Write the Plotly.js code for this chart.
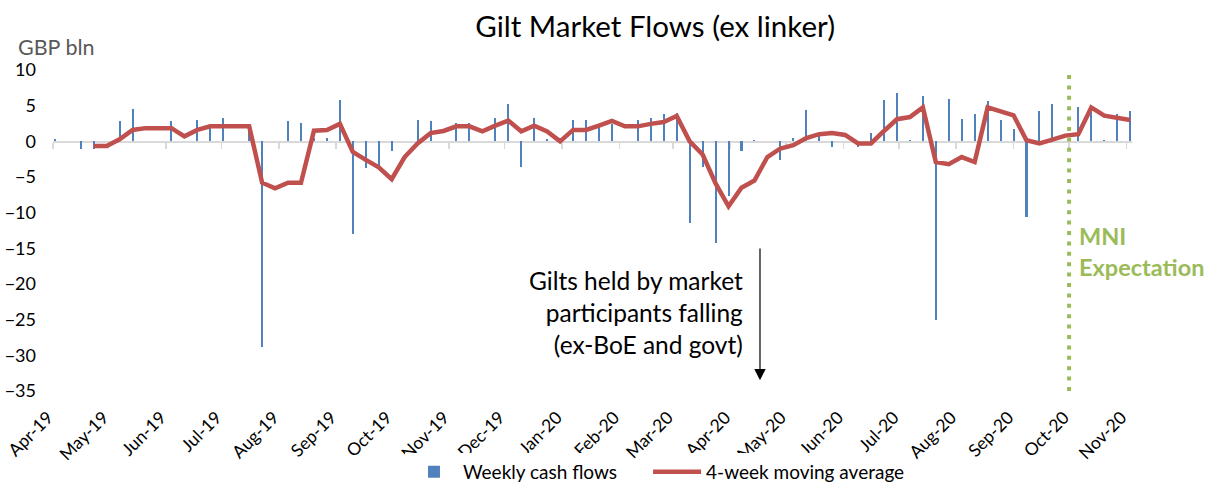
<!DOCTYPE html>
<html>
<head>
<meta charset="utf-8">
<script src="https://cdn.plot.ly/plotly-3.0.1.min.js"></script>
<style>
  body { margin: 0; background: #fff; }
  #chart-gilt-flows { width: 1211px; height: 484px; }
</style>
</head>
<body>
<div id="chart-gilt-flows"></div>
<script>
//weekly dates (tuesdays)
var weeks = [
    "2019-04-02", "2019-04-09", "2019-04-16", "2019-04-23", "2019-04-30",
    "2019-05-07", "2019-05-14", "2019-05-21", "2019-05-28",
    "2019-06-04", "2019-06-11", "2019-06-18", "2019-06-25",
    "2019-07-02", "2019-07-09", "2019-07-16", "2019-07-23", "2019-07-30",
    "2019-08-06", "2019-08-13", "2019-08-20", "2019-08-27",
    "2019-09-03", "2019-09-10", "2019-09-17", "2019-09-24",
    "2019-10-01", "2019-10-08", "2019-10-15", "2019-10-22", "2019-10-29",
    "2019-11-05", "2019-11-12", "2019-11-19", "2019-11-26",
    "2019-12-03", "2019-12-10", "2019-12-17", "2019-12-24", "2019-12-31",
    "2020-01-07", "2020-01-14", "2020-01-21", "2020-01-28",
    "2020-02-04", "2020-02-11", "2020-02-18", "2020-02-25",
    "2020-03-03", "2020-03-10", "2020-03-17", "2020-03-24", "2020-03-31",
    "2020-04-07", "2020-04-14", "2020-04-21", "2020-04-28",
    "2020-05-05", "2020-05-12", "2020-05-19", "2020-05-26",
    "2020-06-02", "2020-06-09", "2020-06-16", "2020-06-23", "2020-06-30",
    "2020-07-07", "2020-07-14", "2020-07-21", "2020-07-28",
    "2020-08-04", "2020-08-11", "2020-08-18", "2020-08-25",
    "2020-09-01", "2020-09-08", "2020-09-15", "2020-09-22", "2020-09-29",
    "2020-10-06", "2020-10-13", "2020-10-20", "2020-10-27",
    "2020-11-03"
];

//weekly cash flows, GBP bln
var weeklyFlows = [
    0.3, 0, -1.1, -1.05, 0,
    2.9, 4.6, 0, 0,
    2.8, 0, 3.05, 2.4,
    3.3, 0, 2.2, -28.9, 0,
    2.8, 2.6, 0.5, 0.5,
    5.8, -13.0, -3.8, -3.6,
    -1.3, 0, 3.05, 2.8, 0,
    2.6, 2.6, 0, 3.3,
    5.3, -3.55, 3.3, 0.3, 0,
    3.05, 3.05, 2.4, 2.45,
    0, 3.05, 3.3, 3.85,
    4.0, -11.5, -3.6, -14.2, -7.7,
    -1.35, 0.25, 0, -2.55,
    0.45, 4.4, 1.2, -0.85,
    0, -0.85, 1.15, 5.8, 6.8,
    0.25, 6.3, -25.1, 6.0,
    3.2, 3.9, 5.6, 2.95,
    1.7, -10.6, 4.3, 5.2, 0,
    4.8, 4.1, 0.25, 3.85,
    4.3
];

//4-week moving average (starts on 4th week)
var movingAvg = [
    null, null, null, -0.65, -0.65,
    0.28, 1.6, 1.85, 1.85,
    1.85, 0.7, 1.6, 2.1,
    2.1, 2.1, 2.1, -5.8, -6.6,
    -5.8, -5.8, 1.5, 1.6,
    2.45, -1.5, -2.6, -3.65,
    -5.3, -2.2, -0.3, 1.15, 1.45,
    2.1, 2.1, 1.4, 2.2,
    2.9, 1.4, 2.2, 1.4, 0,
    1.6, 1.6, 2.2, 2.85,
    2.1, 2.1, 2.45, 2.7,
    3.55, 0, -1.85, -5.9, -9.1,
    -6.5, -5.5, -2.2, -1.0,
    -0.55, 0.45, 1.0, 1.15,
    0.9, -0.3, -0.3, 1.45, 3.1,
    3.4, 4.75, -2.9, -3.2,
    -2.2, -2.9, 4.75, 4.2,
    3.65, 0.15, -0.3, 0.25, 0.8,
    1.0, 4.75, 3.6, 3.35,
    3.0
];

var xRange = ["2019-04-01", "2020-11-04"];
var expectationDate = "2020-10-01";
var arrowDate = "2020-04-17";
var FONT = "Lato, 'Open Sans', sans-serif";

//traces
var trace1 = {
    x: weeks,
    y: weeklyFlows,
    type: 'bar',
    name: 'Weekly cash flows',
    width: 86400000 * 1.1,
    marker: { color: '#4F81BD', line: { width: 0 } },
    legend: 'legend'
};

var trace2 = {
    x: weeks,
    y: movingAvg,
    xaxis: 'x2',
    type: 'scatter',
    mode: 'lines',
    name: '4-week moving average',
    line: { width: 4.5, color: '#C0504D' },
    legend: 'legend2'
};

//two legend boxes side by side, like the excel legend
var legendStyle = {
    orientation: 'h',
    xanchor: 'left',
    y: -0.252,
    yanchor: 'middle',
    font: { family: FONT, size: 19, color: '#000' },
    itemwidth: 48
};

//layout
var layout = {
    width: 1211,
    height: 484,
    margin: { l: 53, r: 79, t: 70, b: 93, autoexpand: false },
    paper_bgcolor: '#fff',
    plot_bgcolor: '#fff',
    font: { family: FONT, color: '#000' },
    title: {
        text: 'Gilt Market Flows (ex linker)',
        font: { family: FONT, size: 29.5, color: '#000' },
        x: 0.541,
        xanchor: 'center',
        y: 0.944,
        yanchor: 'middle'
    },
    showlegend: true,
    legend: Object.assign({ x: 0.3262 }, legendStyle),
    legend2: Object.assign({ x: 0.5515 }, legendStyle),
    bargap: 0,
    xaxis: {
        type: 'date',
        range: xRange,
        tick0: '2019-04-01',
        dtick: 'M1',
        tickformat: '%b-%y',
        tickangle: -45,
        ticks: '',
        ticklabelstandoff: 12,
        ticklabelshift: -5,
        showline: false,
        showgrid: false,
        zeroline: false,
        tickfont: { family: FONT, size: 17.5, color: '#000' },
        fixedrange: true
    },
    //zero axis line with monthly tick marks
    xaxis2: {
        type: 'date',
        matches: 'x',
        overlaying: 'x',
        anchor: 'free',
        position: 35 / 45,
        range: xRange,
        tick0: '2019-04-01',
        dtick: 'M1',
        showticklabels: false,
        ticks: 'outside',
        ticklen: 6,
        tickwidth: 1.5,
        tickcolor: '#D9D9D9',
        showline: true,
        linecolor: '#D9D9D9',
        linewidth: 1.5,
        showgrid: false,
        zeroline: false,
        layer: 'below traces',
        fixedrange: true
    },
    yaxis: {
        range: [-35, 10],
        dtick: 5,
        tick0: 0,
        showgrid: false,
        zeroline: false,
        showline: false,
        ticks: '',
        ticklabelstandoff: 16,
        tickfont: { family: FONT, size: 18, color: '#000' },
        fixedrange: true
    },
    shapes: [
        {
            type: 'line',
            xref: 'x',
            yref: 'y',
            x0: expectationDate,
            x1: expectationDate,
            y0: -35,
            y1: 10,
            line: { color: '#9BBB59', width: 4, dash: '4px,6.4px' }
        }
    ],
    annotations: [
        {
            text: 'GBP bln',
            xref: 'paper',
            yref: 'paper',
            x: -0.034,
            xanchor: 'left',
            y: 1.072,
            yanchor: 'middle',
            showarrow: false,
            font: { family: FONT, size: 21.5, color: '#595959' }
        },
        {
            text: 'Gilts held by market<br>participants falling<br>(ex-BoE and govt)',
            xref: 'paper',
            yref: 'paper',
            x: 0.6413,
            xanchor: 'right',
            align: 'right',
            y: 0.246,
            yanchor: 'middle',
            showarrow: false,
            font: { family: FONT, size: 24.5, color: '#000' }
        },
        {
            text: '',
            xref: 'x',
            yref: 'y',
            x: arrowDate,
            y: -33.5,
            axref: 'x',
            ayref: 'y',
            ax: arrowDate,
            ay: -14.8,
            showarrow: true,
            arrowhead: 2,
            arrowsize: 1.9,
            arrowwidth: 1.2,
            arrowcolor: '#000'
        },
        {
            text: '<b>MNI<br>Expectation</b>',
            xref: 'x',
            yref: 'y',
            x: expectationDate,
            xanchor: 'left',
            xshift: 8,
            align: 'left',
            y: -15.4,
            yanchor: 'middle',
            showarrow: false,
            font: { family: FONT, size: 23.5, color: '#9BBB59' }
        }
    ]
};

//launch of plot
var data = [trace1, trace2];
Plotly.newPlot('chart-gilt-flows', data, layout, {displayModeBar: false, staticPlot: true});
</script>
</body>
</html>
